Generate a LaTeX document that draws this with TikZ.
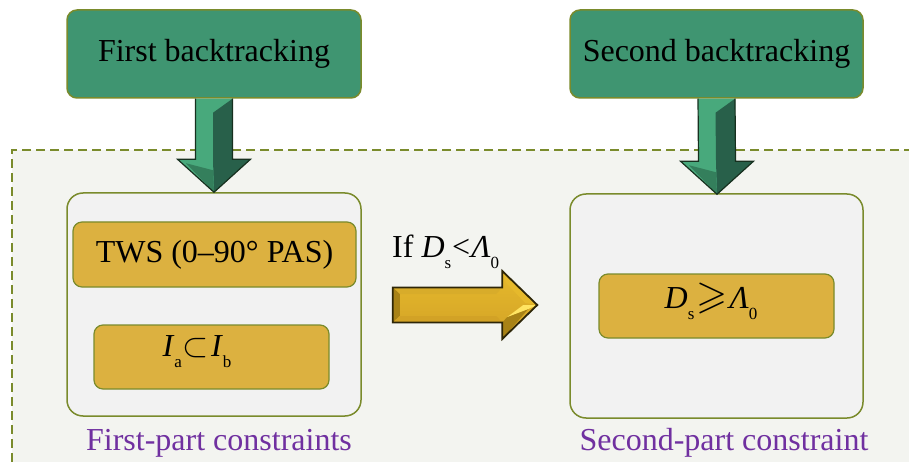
\documentclass[tikz,border=0pt]{standalone}
\usepackage{amssymb}
\usepackage{graphicx}
\usepackage{fontspec}
\setmainfont{Liberation Serif}
\usetikzlibrary{calc}

\definecolor{boxgreen}{HTML}{3F9571}
\definecolor{olive}{HTML}{7A8B2C}
\definecolor{gold}{HTML}{DCB140}
\definecolor{panelgrey}{HTML}{F2F2F2}
\definecolor{zone}{HTML}{F3F4F0}
\definecolor{capviolet}{HTML}{7030A0}
\definecolor{arrowlight}{HTML}{48A97C}
\definecolor{arrowdark}{HTML}{28604A}
\definecolor{arrowmid}{HTML}{347F5C}
\definecolor{arrowedge}{HTML}{17301F}
\definecolor{ytop}{HTML}{E6B92C}
\definecolor{ymid}{HTML}{FFEA70}
\definecolor{ybot}{HTML}{D2A226}
\definecolor{ytopbevel}{HTML}{D8AC2A}
\definecolor{ybevel}{HTML}{A88216}
\definecolor{ybright}{HTML}{FFE462}
\definecolor{yedge}{HTML}{2E2608}

% lowered small subscript, as set in the formulas
\newcommand\lowsub[1]{\raisebox{-11pt}{\fontsize{17}{17}\selectfont #1}}

% bevelled block arrow pointing down, from #1 to the tip #2
\newcommand\blockdown[2]{%
  \fill[arrowlight] ($(#1)+(-18.5,0)$) -- ($(#2)+(-18.5,-33)$) -- ($(#2)+(-36.5,-33)$)
    -- (#2) -- ($(#2)+(36.5,-33)$) -- ($(#2)+(18.5,-33)$) -- ($(#1)+(18.5,0)$) -- cycle;
  \fill[arrowdark] ($(#1)+(-1,14)$) -- ($(#1)+(18.5,0)$) -- ($(#2)+(18.5,-33)$)
    -- ($(#2)+(36.5,-33)$) -- (#2) -- ($(#2)+(-1,-33)$) -- cycle;
  \fill[arrowmid] ($(#2)+(-28,-29)$) -- ($(#2)+(-1,-22)$) -- (#2) -- cycle;
  \draw[arrowedge, line width=1.2pt, line join=miter]
    ($(#1)+(-18.5,0)$) -- ($(#2)+(-18.5,-33)$) -- ($(#2)+(-36.5,-33)$)
    -- (#2) -- ($(#2)+(36.5,-33)$) -- ($(#2)+(18.5,-33)$) -- ($(#1)+(18.5,0)$);
}

\tikzset{
  titlebox/.style={draw=olive, line width=1.5pt, fill=boxgreen, rounded corners=10pt,
    minimum width=294pt, minimum height=88pt, font=\fontsize{32}{38}\selectfont},
  panelbox/.style={draw=olive, line width=1.5pt, fill=panelgrey, rounded corners=16pt},
  itembox/.style={draw=olive, line width=1.2pt, fill=gold, rounded corners=9pt,
    minimum height=64pt, font=\fontsize{32}{38}\selectfont},
  captext/.style={anchor=base, text=capviolet, font=\fontsize{32}{38}\selectfont},
}

\begin{document}
\begin{tikzpicture}[x=1pt, y=-1pt]
\useasboundingbox (0,0) rectangle (909,462);
\fill[white] (0,0) rectangle (909,462);

% shaded constraint zone with dashed border
\fill[zone] (12,150) rectangle (909,462);
\draw[olive, line width=2pt, dash pattern=on 9pt off 5pt] (12,462) -- (12,150) -- (909,150);

% backtracking steps
\node[titlebox] (fb) at (214,54) {First backtracking};
\node[titlebox, minimum width=293pt] (sb) at (716.5,54) {Second backtracking};

% constraint panels
\node[panelbox, minimum width=294pt, minimum height=223pt] (fc) at (214,304.5) {};
\node[panelbox, minimum width=293pt, minimum height=224pt] (sc) at (716.5,306) {};

\node[itembox, minimum width=283pt, minimum height=65pt] (tws) at (214.5,254.5) {TWS (0–90° PAS)};
\node[itembox, minimum width=235pt] (iab) at (211.5,357) {};
\node[font=\fontsize{32}{38}\selectfont] (iabt) at (197,352)
  {\textit{I}\lowsub{a}\kern1pt\scalebox{1.35}{$\subset$}\kern2pt\textit{I}\lowsub{b}};
\node[itembox, minimum width=235pt] (ds) at (716.5,306) {};
\node[font=\fontsize{32}{38}\selectfont] (dst) at (711,301)
  {\textit{D}\lowsub{s}\kern2pt\scalebox{1.25}{$\geqslant$}\kern2pt\textit{Λ}\lowsub{0}};

\node[captext] (fcap) at (219,450) {First-part constraints};
\node[captext] (scap) at (724,450) {Second-part constraint};

% condition on the transition
\node[anchor=base west, inner sep=0pt, font=\fontsize{32}{38}\selectfont] (cond) at (392,257)
  {If \textit{D}\lowsub{s}\kern1pt<\kern1pt\textit{Λ}\lowsub{0}};

% green block arrows from each step to its panel
\coordinate (a1s) at (fb.south);
\coordinate (a1t) at (fc.north);
\blockdown{a1s}{a1t}
\coordinate (a2s) at (sb.south);
\coordinate (a2t) at ($(sc.north)+(0.5,1)$);
\blockdown{a2s}{a2t}

% golden bevelled block arrow between the panels
\coordinate (ys) at ($(fc.east)+(31,0.5)$);
\coordinate (yt) at ($(sc.west)+(-32,-1)$);
\shade[top color=ytop, middle color=ymid, bottom color=ybot, shading angle=0]
  ($(ys)+(0,-17.5)$) -- ($(yt)+(-35,-17.5)$) -- ($(yt)+(-35,-34)$) -- (yt)
  -- ($(yt)+(-35,34)$) -- ($(yt)+(-35,17.5)$) -- ($(ys)+(0,17.5)$) -- cycle;
% top bevel of the shaft
\fill[ytopbevel] ($(ys)+(0,-17.5)$) -- ($(yt)+(-35,-17.5)$) -- ($(yt)+(-41,-11)$) -- ($(ys)+(7,-11)$) -- cycle;
% left end bevel
\fill[ybevel] ($(ys)+(0,-17.5)$) -- ($(ys)+(7,-11)$) -- ($(ys)+(7,11)$) -- ($(ys)+(0,17.5)$) -- cycle;
% bottom bevel of the shaft
\fill[ybot] ($(ys)+(0,17.5)$) -- ($(ys)+(7,11)$) -- ($(yt)+(-41,11)$) -- ($(yt)+(-35,17.5)$) -- cycle;
% head facets
\fill[ybevel] ($(yt)+(-35,17.5)$) -- ($(yt)+(-35,34)$) -- ($(yt)+(-9,4)$) -- ($(yt)+(-30,12)$) -- cycle;
\fill[ybright] ($(yt)+(-30,12)$) -- ($(yt)+(-9,4)$) -- (yt) -- ($(yt)+(-14,0)$) -- cycle;
\fill[ytop] ($(yt)+(-35,-34)$) -- (yt) -- ($(yt)+(-12,-2)$) -- ($(yt)+(-31,-22)$) -- cycle;
\draw[yedge, line width=1.8pt, line join=miter]
  ($(ys)+(0,-17.5)$) -- ($(yt)+(-35,-17.5)$) -- ($(yt)+(-35,-34)$) -- (yt)
  -- ($(yt)+(-35,34)$) -- ($(yt)+(-35,17.5)$) -- ($(ys)+(0,17.5)$) -- cycle;
\end{tikzpicture}
\end{document}
